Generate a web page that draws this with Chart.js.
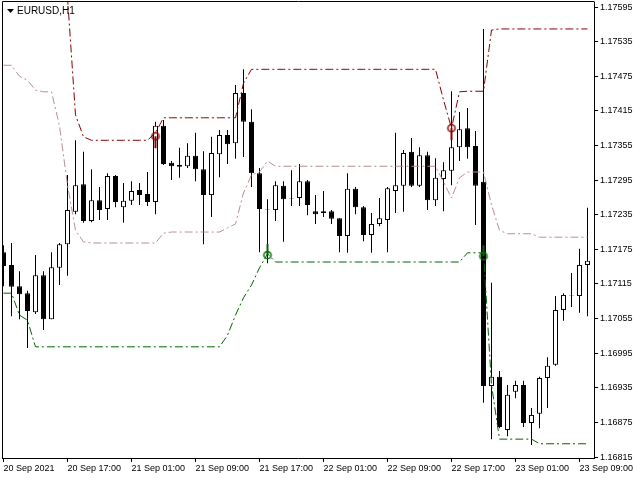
<!DOCTYPE html>
<html lang="en">
<head>
<meta charset="UTF-8">
<title>EURUSD,H1</title>
<script src="https://cdn.jsdelivr.net/npm/chart.js@4"></script>
<style>
  html, body { margin: 0; padding: 0; background: #fff; }
  canvas { display: block; }
</style>
</head>
<body>
<canvas id="chart" width="640" height="480"></canvas>
<script>
// H1 bars, 20 Sep 2021 09:00 .. 23 Sep 10:00
const open = [
  1.17170, 1.17148, 1.17111, 1.17099, 1.17066, 1.17130, 1.17054, 1.17143, 1.17184, 1.17240,
  1.17288, 1.17224, 1.17260, 1.17245, 1.17302, 1.17248, 1.17259, 1.17278, 1.17271, 1.17257,
  1.17389, 1.17325, 1.17321, 1.17319, 1.17337, 1.17314, 1.17269, 1.17340, 1.17373, 1.17359,
  1.17446, 1.17396, 1.17307, 1.17245, 1.17243, 1.17285, 1.17264, 1.17264, 1.17293, 1.17241,
  1.17241, 1.17241, 1.17229, 1.17198, 1.17280, 1.17248, 1.17200, 1.17219, 1.17226, 1.17276,
  1.17285, 1.17344, 1.17285, 1.17338, 1.17260, 1.17297, 1.17311, 1.17352, 1.17385, 1.17354,
  1.17292, 1.16938, 1.16954, 1.16862, 1.16928, 1.16940, 1.16874, 1.16890, 1.16952, 1.16975,
  1.17070, 1.17094, 1.17094, 1.17148
];
const high = [
  1.17182, 1.17186, 1.17137, 1.17103, 1.17165, 1.17137, 1.17170, 1.17186, 1.17304, 1.17364,
  1.17344, 1.17314, 1.17283, 1.17307, 1.17304, 1.17290, 1.17293, 1.17290, 1.17309, 1.17396,
  1.17399, 1.17328, 1.17351, 1.17359, 1.17377, 1.17345, 1.17370, 1.17382, 1.17382, 1.17460,
  1.17487, 1.17418, 1.17316, 1.17262, 1.17293, 1.17293, 1.17312, 1.17323, 1.17295, 1.17269,
  1.17276, 1.17243, 1.17229, 1.17307, 1.17283, 1.17250, 1.17238, 1.17264, 1.17283, 1.17377,
  1.17347, 1.17368, 1.17352, 1.17344, 1.17333, 1.17326, 1.17449, 1.17413, 1.17420, 1.17380,
  1.17557, 1.17117, 1.16964, 1.16940, 1.16947, 1.16947, 1.16900, 1.16954, 1.16988, 1.17094,
  1.17099, 1.17134, 1.17176, 1.17247
];
const low = [
  1.17111, 1.17059, 1.17054, 1.17004, 1.17063, 1.17035, 1.17054, 1.17113, 1.17129, 1.17236,
  1.17221, 1.17222, 1.17226, 1.17226, 1.17248, 1.17221, 1.17252, 1.17252, 1.17250, 1.17236,
  1.17321, 1.17295, 1.17299, 1.17316, 1.17293, 1.17184, 1.17231, 1.17300, 1.17323, 1.17332,
  1.17335, 1.17283, 1.17170, 1.17151, 1.17224, 1.17188, 1.17250, 1.17250, 1.17234, 1.17219,
  1.17231, 1.17219, 1.17170, 1.17169, 1.17236, 1.17189, 1.17169, 1.17215, 1.17170, 1.17238,
  1.17240, 1.17283, 1.17283, 1.17243, 1.17250, 1.17241, 1.17286, 1.17328, 1.17332, 1.17217,
  1.16909, 1.16846, 1.16865, 1.16851, 1.16917, 1.16867, 1.16836, 1.16865, 1.16900, 1.16973,
  1.17051, 1.17075, 1.17065, 1.17059
];
const close = [
  1.17146, 1.17110, 1.17097, 1.17068, 1.17130, 1.17054, 1.17144, 1.17184, 1.17243, 1.17286,
  1.17224, 1.17260, 1.17243, 1.17302, 1.17257, 1.17259, 1.17276, 1.17269, 1.17257, 1.17389,
  1.17323, 1.17319, 1.17318, 1.17337, 1.17314, 1.17269, 1.17342, 1.17373, 1.17357, 1.17446,
  1.17396, 1.17307, 1.17245, 1.17244, 1.17286, 1.17262, 1.17263, 1.17293, 1.17252, 1.17236,
  1.17238, 1.17228, 1.17198, 1.17280, 1.17248, 1.17200, 1.17219, 1.17229, 1.17281, 1.17286,
  1.17342, 1.17285, 1.17338, 1.17260, 1.17299, 1.17312, 1.17352, 1.17383, 1.17352, 1.17285,
  1.16938, 1.16954, 1.16867, 1.16923, 1.16940, 1.16874, 1.16888, 1.16952, 1.16973, 1.17070,
  1.17096, 1.17095, 1.17148, 1.17155
];

// channel lines (upper / middle / lower)
const upperBand = [
  1.17889, 1.17889, 1.17889, 1.17889, 1.17889, 1.17889, 1.17889, 1.17772, 1.17612, 1.17408,
  1.17370, 1.17364, 1.17364, 1.17364, 1.17364, 1.17364, 1.17364, 1.17364, 1.17364, 1.17377,
  1.17403, 1.17403, 1.17403, 1.17403, 1.17403, 1.17403, 1.17403, 1.17403, 1.17403, 1.17403,
  1.17463, 1.17487, 1.17487, 1.17487, 1.17487, 1.17487, 1.17487, 1.17487, 1.17487, 1.17487,
  1.17487, 1.17487, 1.17487, 1.17487, 1.17487, 1.17487, 1.17487, 1.17487, 1.17487, 1.17487,
  1.17487, 1.17487, 1.17487, 1.17487, 1.17487, 1.17434, 1.17385, 1.17448, 1.17449, 1.17449,
  1.17449, 1.17555, 1.17557, 1.17557, 1.17557, 1.17557, 1.17557, 1.17557, 1.17557, 1.17557,
  1.17557, 1.17557, 1.17557, 1.17557
];
const middleBand = [
  1.17494, 1.17494, 1.17475, 1.17468, 1.17451, 1.17448, 1.17448, 1.17389, 1.17286, 1.17208,
  1.17188, 1.17186, 1.17186, 1.17186, 1.17186, 1.17186, 1.17186, 1.17186, 1.17186, 1.17186,
  1.17203, 1.17205, 1.17205, 1.17205, 1.17205, 1.17205, 1.17205, 1.17205, 1.17212, 1.17219,
  1.17273, 1.17304, 1.17309, 1.17328, 1.17319, 1.17319, 1.17319, 1.17319, 1.17319, 1.17319,
  1.17319, 1.17319, 1.17319, 1.17319, 1.17319, 1.17319, 1.17319, 1.17319, 1.17319, 1.17319,
  1.17319, 1.17319, 1.17319, 1.17319, 1.17319, 1.17292, 1.17264, 1.17299, 1.17309, 1.17309,
  1.17309, 1.17252, 1.17208, 1.17202, 1.17202, 1.17202, 1.17202, 1.17196, 1.17196, 1.17196,
  1.17196, 1.17196, 1.17196, 1.17196
];
const lowerBand = [
  1.17099, 1.17099, 1.17061, 1.17052, 1.17006, 1.17006, 1.17006, 1.17006, 1.17006, 1.17006,
  1.17006, 1.17006, 1.17006, 1.17006, 1.17006, 1.17006, 1.17006, 1.17006, 1.17006, 1.17006,
  1.17006, 1.17006, 1.17006, 1.17006, 1.17006, 1.17006, 1.17006, 1.17006, 1.17026, 1.17061,
  1.17091, 1.17113, 1.17143, 1.17167, 1.17153, 1.17153, 1.17153, 1.17153, 1.17153, 1.17153,
  1.17153, 1.17153, 1.17153, 1.17153, 1.17153, 1.17153, 1.17153, 1.17153, 1.17153, 1.17153,
  1.17153, 1.17153, 1.17153, 1.17153, 1.17153, 1.17153, 1.17153, 1.17153, 1.17169, 1.17169,
  1.17169, 1.16940, 1.16846, 1.16846, 1.16846, 1.16846, 1.16846, 1.16838, 1.16838, 1.16838,
  1.16838, 1.16838, 1.16838, 1.16838
];

// arrow signals (bar index, price)
const sellBars = [19, 56];
const sellPrices = [1.17371, 1.17385];
const buyBars = [33, 60];
const buyPrices = [1.17165, 1.17163];

// axis labels
const timeTickBars = [0, 8, 16, 24, 32, 40, 48, 56, 64, 72];
const timeTickLabels = ['20 Sep 2021', '20 Sep 17:00', '21 Sep 01:00', '21 Sep 09:00', '21 Sep 17:00',
  '22 Sep 01:00', '22 Sep 09:00', '22 Sep 17:00', '23 Sep 01:00', '23 Sep 09:00'];
const priceTicks = [1.17595, 1.17535, 1.17475, 1.17415, 1.17355, 1.17295, 1.17235,
  1.17175, 1.17115, 1.17055, 1.16995, 1.16935, 1.16875, 1.16815];

const FONT = '"Liberation Sans", Arial, sans-serif';

// circle with a stick, like the MT4 arrow
function signalMark(color, stickDown) {
  const c = document.createElement('canvas');
  c.width = 12; c.height = 30;
  const g = c.getContext('2d');
  g.strokeStyle = color;
  g.lineWidth = 1.5;
  g.beginPath(); g.arc(6, 15, 3.6, 0, Math.PI * 2); g.stroke();
  g.lineWidth = 2;
  g.beginPath();
  if (stickDown) { g.moveTo(6, 15); g.lineTo(6, 27); }
  else { g.moveTo(6, 4); g.lineTo(6, 15); }
  g.stroke();
  return c;
}

// no extra label padding, keep the plot area fixed
function noPad(s) {
  s.paddingLeft = 0; s.paddingRight = 0; s.paddingTop = 0; s.paddingBottom = 0;
}

const frame = {
  id: 'frame',
  beforeDraw(chart) {
    const ctx = chart.ctx;
    ctx.save();
    ctx.fillStyle = '#fff';
    ctx.fillRect(0, 0, chart.width, chart.height);
    ctx.restore();
  },
  afterDraw(chart) {
    const ctx = chart.ctx, a = chart.chartArea;
    ctx.save();
    ctx.strokeStyle = '#000';
    ctx.lineWidth = 1;
    ctx.beginPath();
    ctx.moveTo(a.left + 0.5, a.bottom);
    ctx.lineTo(a.left + 0.5, a.top - 0.5);
    ctx.lineTo(a.right + 0.5, a.top - 0.5);
    ctx.stroke();
    ctx.fillStyle = '#000';
    ctx.beginPath();
    ctx.moveTo(7, 9); ctx.lineTo(14, 9); ctx.lineTo(10.5, 13);
    ctx.closePath(); ctx.fill();
    ctx.font = '10px ' + FONT;
    ctx.textBaseline = 'middle';
    ctx.fillText('EURUSD,H1', 17, 11);
    ctx.restore();
  }
};

const bars = open.map((o, i) => i);

new Chart(document.getElementById('chart'), {
  type: 'line',
  data: {
    datasets: [
      {
        type: 'line', data: sellBars.map((b, k) => ({x: b, y: sellPrices[k]})),
        showLine: false, pointStyle: signalMark('#8b0000', true), pointRadius: 4
      },
      {
        type: 'line', data: buyBars.map((b, k) => ({x: b, y: buyPrices[k]})),
        showLine: false, pointStyle: signalMark('#006400', false), pointRadius: 4
      },
      {
        type: 'line', data: bars.map(i => ({x: i, y: upperBand[i]})),
        borderColor: '#8b0000', borderWidth: 1, borderDash: [8, 3, 2, 3], pointRadius: 0, tension: 0
      },
      {
        type: 'line', data: bars.map(i => ({x: i, y: middleBand[i]})),
        borderColor: '#bc8f8f', borderWidth: 1, borderDash: [8, 3, 2, 3], pointRadius: 0, tension: 0
      },
      {
        type: 'line', data: bars.map(i => ({x: i, y: lowerBand[i]})),
        borderColor: '#006400', borderWidth: 1, borderDash: [8, 3, 2, 3], pointRadius: 0, tension: 0
      },
      {
        type: 'bar', data: bars.map(i => ({x: i, y: [open[i], close[i]]})),
        backgroundColor: bars.map(i => close[i] >= open[i] ? '#ffffff' : '#000000'),
        borderColor: '#000', borderWidth: 1, borderSkipped: false,
        barThickness: 5, grouped: false, inflateAmount: 0
      },
      {
        type: 'bar', data: bars.map(i => ({x: i, y: [low[i], high[i]]})),
        backgroundColor: '#000', borderWidth: 0,
        barThickness: 1, grouped: false, inflateAmount: 0
      }
    ]
  },
  options: {
    responsive: false,
    animation: false,
    events: [],
    layout: { autoPadding: false, padding: { left: 2, top: 2, right: 0, bottom: 0 } },
    plugins: { legend: { display: false }, tooltip: { enabled: false } },
    scales: {
      x: {
        type: 'linear', offset: false,
        min: -0.1875, max: 73.8125,
        afterBuildTicks: s => { s.ticks = timeTickBars.map(v => ({value: v})); },
        afterFit: s => { s.height = 22; noPad(s); },
        grid: { offset: false, drawOnChartArea: false, drawTicks: true, tickLength: 4, color: '#000' },
        border: { display: true, color: '#000' },
        ticks: {
          autoSkip: false, maxRotation: 0, align: 'start', padding: 1, color: '#000',
          font: { family: FONT, size: 9 },
          callback: v => timeTickLabels[timeTickBars.indexOf(v)] || ''
        }
      },
      y: {
        type: 'linear', position: 'right',
        min: 1.168133, max: 1.176037,
        afterBuildTicks: s => { s.ticks = priceTicks.map(v => ({value: v})); },
        afterFit: s => { s.width = 46; noPad(s); },
        grid: { drawOnChartArea: false, drawTicks: true, tickLength: 4, color: '#000' },
        border: { display: true, color: '#000' },
        ticks: {
          padding: 2, color: '#000',
          font: { family: FONT, size: 9 },
          callback: v => v.toFixed(5)
        }
      }
    }
  },
  plugins: [frame]
});
</script>
</body>
</html>
